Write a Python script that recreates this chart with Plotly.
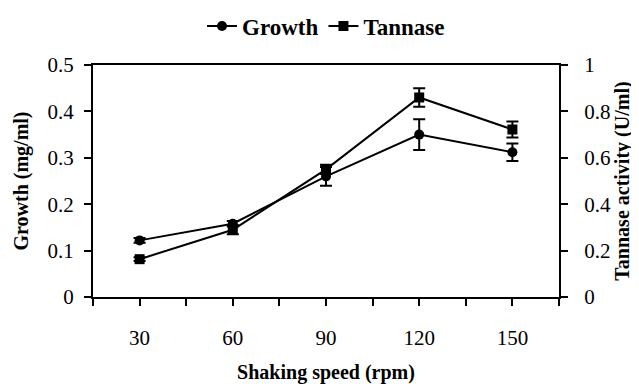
import plotly.graph_objects as go

speed = [30, 60, 90, 120, 150]
growth = [0.122, 0.158, 0.26, 0.35, 0.312]
growth_err = [0.005, 0.006, 0.02, 0.033, 0.019]
tannase = [0.163, 0.29, 0.55, 0.86, 0.722]
tannase_err = [0.008, 0.02, 0.02, 0.04, 0.035]
x_tickvals = [15, 30, 45, 60, 75, 90, 105, 120, 135, 150, 165]
x_ticktext = ["", "30", "", "60", "", "90", "", "120", "", "150", ""]
y1_tickvals = [0, 0.1, 0.2, 0.3, 0.4, 0.5]
y1_ticktext = ["0", "0.1", "0.2", "0.3", "0.4", "0.5"]
y2_tickvals = [0, 0.2, 0.4, 0.6, 0.8, 1]
y2_ticktext = ["0", "0.2", "0.4", "0.6", "0.8", "1"]

FONT = "Liberation Serif"

fig = go.Figure()
fig.add_trace(go.Scatter(
    x=speed, y=growth, name="Growth", mode="lines+markers",
    line=dict(color="black", width=2),
    marker=dict(symbol="circle", size=10, color="black"),
    error_y=dict(type="data", array=growth_err, color="black", thickness=2, width=6),
))
fig.add_trace(go.Scatter(
    x=speed, y=tannase, name="Tannase", mode="lines+markers", yaxis="y2",
    line=dict(color="black", width=2),
    marker=dict(symbol="square", size=10, color="black"),
    error_y=dict(type="data", array=tannase_err, color="black", thickness=2, width=6),
))

fig.update_layout(
    width=631, height=376,
    margin=dict(l=85, r=80, t=57, b=87, autoexpand=False),
    paper_bgcolor="white", plot_bgcolor="white",
    font=dict(family=FONT, size=21, color="black"),
    showlegend=True,
    legend=dict(orientation="h", x=0.5, xanchor="center", y=1.168, yanchor="middle",
                font=dict(family=FONT, size=23, color="black", weight="bold"),
                tracegroupgap=0, bgcolor="rgba(0,0,0,0)"),
    xaxis=dict(range=[15, 165], tickvals=x_tickvals, ticktext=x_ticktext,
               ticks="outside", ticklen=7, tickwidth=2, tickcolor="black",
               showline=True, linecolor="black", linewidth=2, mirror=True,
               showgrid=False, zeroline=False, ticklabelstandoff=14,
               title=dict(text="Shaking speed (rpm)", font=dict(size=20, weight="bold"), standoff=18)),
    yaxis=dict(range=[0, 0.5], tickvals=y1_tickvals, ticktext=y1_ticktext,
               ticks="outside", ticklen=7, tickwidth=2, tickcolor="black",
               showline=True, linecolor="black", linewidth=2,
               showgrid=False, zeroline=False, ticklabelstandoff=6,
               title=dict(text="Growth (mg/ml)", font=dict(size=20, weight="bold"), standoff=14)),
    yaxis2=dict(range=[0, 1], tickvals=y2_tickvals, ticktext=y2_ticktext,
                overlaying="y", side="right",
                ticks="outside", ticklen=7, tickwidth=2, tickcolor="black",
                showline=True, linecolor="black", linewidth=2,
                showgrid=False, zeroline=False, ticklabelstandoff=12,
                title=dict(text="Tannase activity (U/ml)", font=dict(size=20, weight="bold"), standoff=4)),
)

fig.write_html("out.html")
